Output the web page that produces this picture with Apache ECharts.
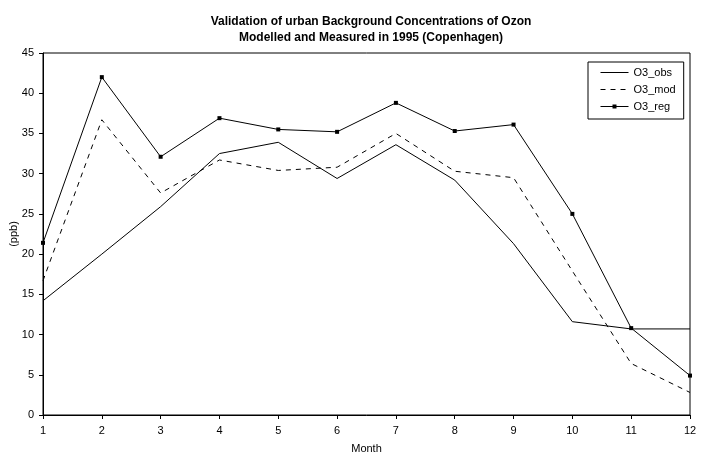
<!DOCTYPE html>
<html>
<head>
<meta charset="utf-8">
<script src="https://cdn.jsdelivr.net/npm/echarts@6/dist/echarts.min.js"></script>
<style>
  html, body { margin: 0; padding: 0; background: #fff; }
  #chart { width: 707px; height: 462px; }
</style>
</head>
<body>
<div id="chart"></div>
<script type="text/javascript">
	var months = [1, 2, 3, 4, 5, 6, 7, 8, 9, 10, 11, 12];
	var o3Obs = [14.2, 20.0, 25.9, 32.5, 33.9, 29.4, 33.6, 29.2, 21.3, 11.6, 10.7, 10.7];
	var o3Mod = [16.7, 36.7, 27.6, 31.7, 30.4, 30.8, 35.0, 30.3, 29.5, 17.9, 6.4, 2.8];
	var o3Reg = [21.4, 42.0, 32.1, 36.9, 35.5, 35.2, 38.8, 35.3, 36.1, 25.0, 10.8, 4.9];

	function pairs(vals) {
		return months.map(function (m, i) { return [m, vals[i]]; });
	}

	var chart = echarts.init(document.getElementById('chart'));
	var font = 'Liberation Sans, Arial, sans-serif';

	chart.setOption({
		animation: false,
		backgroundColor: '#fff',
		title: {
			text: 'Validation of urban Background Concentrations of Ozon\nModelled and Measured in 1995 (Copenhagen)',
			left: 366,
			textAlign: 'center',
			top: 9,
			textStyle: { fontFamily: font, fontSize: 12, fontWeight: 'bold', color: '#000', lineHeight: 16 }
		},
		legend: {
			orient: 'vertical',
			left: 588,
			top: 62,
			width: 94,
			padding: [5, 8, 7, 12],
			itemGap: 6,
			itemWidth: 28,
			itemHeight: 5,
			borderColor: '#000',
			borderWidth: 1,
			lineStyle: { width: 1 },
			data: [
				{ name: 'O3_obs', itemStyle: { opacity: 0 } },
				{ name: 'O3_mod', itemStyle: { opacity: 0 } },
				{ name: 'O3_reg' }
			],
			textStyle: { fontFamily: font, fontSize: 11, color: '#000' }
		},
		grid: {
			left: 43, right: 17, top: 53, bottom: 47,
			outerBoundsMode: 'none',
			show: true, borderColor: '#000', borderWidth: 1
		},
		xAxis: {
			type: 'value',
			min: 1, max: 12, interval: 1,
			name: 'Month',
			nameLocation: 'middle',
			nameGap: 28,
			nameTextStyle: { fontFamily: font, fontSize: 11, color: '#000' },
			axisLine: { lineStyle: { color: '#000' } },
			axisTick: { length: 4, lineStyle: { color: '#000' } },
			axisLabel: { fontFamily: font, fontSize: 11, color: '#000', margin: 10 },
			splitLine: { show: false }
		},
		yAxis: {
			type: 'value',
			min: 0, max: 45, interval: 5,
			name: '(ppb)',
			nameLocation: 'middle',
			nameGap: 24,
			nameMoveOverlap: false,
			nameTextStyle: { fontFamily: font, fontSize: 11, color: '#000' },
			axisLine: { show: true, lineStyle: { color: '#000' } },
			axisTick: { show: true, length: 4, lineStyle: { color: '#000' } },
			axisLabel: { fontFamily: font, fontSize: 11, color: '#000', margin: 9 },
			splitLine: { show: false }
		},
		series: [
			{
				name: 'O3_obs', type: 'line', data: pairs(o3Obs),
				showSymbol: false, symbol: 'none',
				lineStyle: { color: '#000', width: 1 },
				itemStyle: { color: '#000' }
			},
			{
				name: 'O3_mod', type: 'line', data: pairs(o3Mod),
				showSymbol: false, symbol: 'none',
				lineStyle: { color: '#000', width: 1, type: [5, 5] },
				itemStyle: { color: '#000' }
			},
			{
				name: 'O3_reg', type: 'line', data: pairs(o3Reg),
				symbol: 'rect', symbolSize: 4,
				lineStyle: { color: '#000', width: 1 },
				itemStyle: { color: '#000' }
			}
		]
	});
</script>
</body>
</html>
